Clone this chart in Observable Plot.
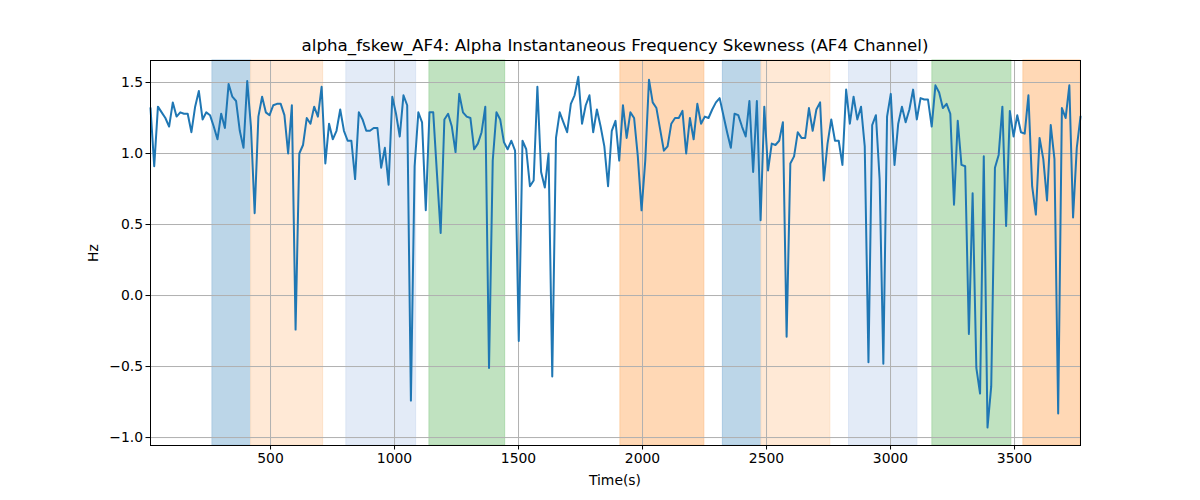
<!DOCTYPE html>
<html>
<head>
<meta charset="utf-8">
<script src="https://cdn.jsdelivr.net/npm/d3@7"></script>
<script src="https://cdn.jsdelivr.net/npm/@observablehq/plot@0.6"></script>
<style>
  body { margin: 0; background: #fff; font-family: "DejaVu Sans", sans-serif; }
  #wrap { position: relative; width: 1200px; height: 500px; }
  #title { position: absolute; top: 35px; left: 150px; width: 930px; text-align: center; font-size: 16.7px; color: #000; }
  #xlabel { position: absolute; top: 472px; left: 150px; width: 930px; text-align: center; font-size: 13.9px; color: #000; }
  #ylabel { position: absolute; left: 93px; top: 253px; transform: translate(-50%, -50%) rotate(-90deg); font-size: 13.9px; color: #000; }
  svg text { font-family: "DejaVu Sans", sans-serif; }
</style>
</head>
<body>
<div id="wrap">
  <div id="chart"></div>
  <div id="title">alpha_fskew_AF4: Alpha Instantaneous Frequency Skewness (AF4 Channel)</div>
  <div id="xlabel">Time(s)</div>
  <div id="ylabel">Hz</div>
</div>
<script>
// Sample grid (seconds)
const timeStart = 16;
const timeStep = 15;

// Alpha instantaneous frequency skewness (Hz), one value per sample
const skew = [
  1.32, 0.91, 1.33, 1.29, 1.25, 1.19, 1.36, 1.26, 1.29, 1.28,
  1.28, 1.15, 1.33, 1.44, 1.24, 1.29, 1.27, 1.19, 1.10, 1.28,
  1.18, 1.49, 1.40, 1.37, 1.16, 1.04, 1.51, 1.19, 0.58, 1.26,
  1.40, 1.29, 1.27, 1.34, 1.35, 1.35, 1.27, 1.00, 1.34, -0.24,
  1.00, 1.06, 1.25, 1.21, 1.33, 1.26, 1.47, 0.93, 1.21, 1.10,
  1.16, 1.31, 1.16, 1.09, 1.09, 0.82, 1.29, 1.24, 1.16, 1.16,
  1.18, 1.18, 0.90, 1.04, 0.78, 1.40, 1.28, 1.12, 1.41, 1.34,
  -0.74, 0.91, 1.29, 1.22, 0.60, 1.29, 1.29, 0.86, 0.44, 1.24,
  1.28, 1.19, 1.01, 1.42, 1.29, 1.26, 1.25, 1.03, 1.07, 1.15,
  1.33, -0.51, 0.95, 1.29, 1.24, 1.08, 1.03, 1.09, 1.02, -0.32,
  1.09, 1.03, 0.77, 0.81, 1.47, 0.87, 0.76, 1.00, -0.57, 1.11,
  1.29, 1.22, 1.15, 1.35, 1.41, 1.54, 1.21, 1.34, 1.41, 1.15,
  1.31, 1.19, 1.05, 0.77, 1.16, 1.23, 0.95, 1.34, 1.11, 1.29,
  1.25, 0.98, 0.60, 0.95, 1.52, 1.36, 1.32, 1.17, 1.02, 1.05,
  1.21, 1.25, 1.25, 1.30, 1.00, 1.25, 1.10, 1.35, 1.21, 1.26,
  1.25, 1.31, 1.36, 1.39, 1.27, 1.15, 1.04, 1.28, 1.27, 1.19,
  1.12, 1.37, 0.87, 1.37, 0.53, 1.33, 0.88, 1.07, 1.06, 1.09,
  1.22, -0.29, 0.93, 0.98, 1.15, 1.11, 1.11, 1.32, 1.16, 1.31,
  1.36, 0.81, 1.07, 1.24, 1.09, 1.09, 0.92, 1.45, 1.21, 1.40,
  1.24, 1.33, 1.05, -0.47, 1.20, 1.27, 0.82, -0.48, 1.26, 1.42,
  0.92, 1.21, 1.33, 1.22, 1.31, 1.45, 1.24, 1.39, 1.38, 1.38,
  1.19, 1.48, 1.43, 1.32, 1.35, 1.28, 0.64, 1.23, 0.92, 0.91,
  -0.27, 0.72, -0.51, -0.69, 0.98, -0.93, -0.64, 0.90, 0.99, 1.33,
  0.49, 1.30, 1.12, 1.27, 1.15, 1.14, 1.41, 0.77, 0.57, 1.11,
  0.96, 0.67, 1.20, 0.96, -0.83, 1.32, 1.25, 1.48, 0.55, 1.04,
  1.26
];

// Shaded intervals (seconds) and their kind
const bandStart = [266, 422, 806, 1141, 1911, 2324, 2480, 2833, 3169, 3536];
const bandEnd   = [422, 712, 1087, 1446, 2249, 2480, 2757, 3108, 3487, 3766];
const bandKind  = ["blue", "peach", "lightblue", "green", "orange", "blue", "peach", "lightblue", "green", "orange"];

// Axis ticks
const xTicks = [500, 1000, 1500, 2000, 2500, 3000, 3500];
const yTicks = [-1.0, -0.5, 0.0, 0.5, 1.0, 1.5];

const xDomain = [16, 3766];
const yDomain = [-1.056, 1.655];

const kindColor = {
  blue: "#bcd6e8",
  peach: "#ffe9d6",
  lightblue: "#e3ebf7",
  green: "#c0e2c0",
  orange: "#ffd8b5"
};
const kindEdge = {
  blue: "#a9c9e2",
  peach: "#fde0c6",
  lightblue: "#d8e3f3",
  green: "#acd9ac",
  orange: "#fdcb9e"
};

const series = skew.map((v, i) => ({t: timeStart + i * timeStep, v}));
const bands = bandStart.map((s, i) => ({x1: s, x2: bandEnd[i], kind: bandKind[i]}));

const fmt = d => d.toFixed(1).replace("-", "\u2212");

const chart = Plot.plot({
  width: 1200,
  height: 500,
  marginLeft: 150,
  marginRight: 120,
  marginTop: 60,
  marginBottom: 55,
  style: {fontFamily: "DejaVu Sans, sans-serif", fontSize: "13.9px", color: "#000", background: "#fff"},
  x: {domain: xDomain},
  y: {domain: yDomain},
  marks: [
    Plot.rect(bands, {x1: "x1", x2: "x2", fill: d => kindColor[d.kind], stroke: d => kindEdge[d.kind], strokeWidth: 1}),
    Plot.gridX(xTicks, {stroke: "#b0b0b0", strokeOpacity: 1, strokeWidth: 1}),
    Plot.gridY(yTicks, {stroke: "#b0b0b0", strokeOpacity: 1, strokeWidth: 1}),
    Plot.line(series, {x: "t", y: "v", stroke: "#1f77b4", strokeWidth: 2, curve: "linear"}),
    Plot.frame({stroke: "#000", strokeWidth: 1}),
    Plot.axisX({ticks: xTicks, tickSize: 4.5, tickPadding: 3, label: null, fontSize: 13.9, tickFormat: d => String(d)}),
    Plot.axisY({ticks: yTicks, tickSize: 4.5, tickPadding: 3, label: null, fontSize: 13.9, tickFormat: fmt})
  ]
});

document.getElementById("chart").appendChild(chart);
</script>
</body>
</html>
